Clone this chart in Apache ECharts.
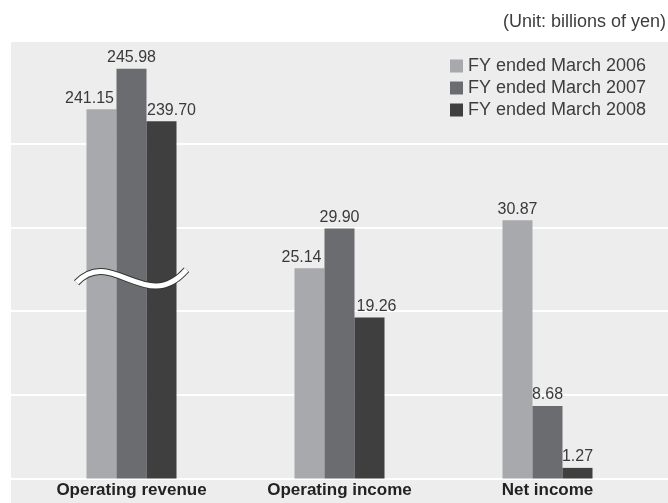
<!DOCTYPE html>
<html>
<head>
<meta charset="utf-8">
<script src="https://cdn.jsdelivr.net/npm/echarts@6/dist/echarts.min.js"></script>
<style>
html, body { margin: 0; padding: 0; background: #fff; }
#chart { width: 668px; height: 503px; }
</style>
</head>
<body>
<div id="chart"></div>
<script>
// data
var categories = ['Operating revenue', 'Operating income', 'Net income'];
var seriesNames = ['FY ended March 2006', 'FY ended March 2007', 'FY ended March 2008'];
var fy2006 = [241.15, 25.14, 30.87];
var fy2007 = [245.98, 29.90, 8.68];
var fy2008 = [239.70, 19.26, 1.27];
var yMax = 52.3;
var yStep = 10;
// broken axis for revenue: bars drawn lowered by breakOffset, wave drawn at breakAt
var breakOffset = 197;
var breakAt = 24;

var font = "'Liberation Sans', Arial, Helvetica, sans-serif";
var colors = ['#a8a9ac', '#6b6c70', '#3f3f40'];
// label nudges so neighbouring labels don't overlap
var nudge = [[-12, -8, 0], [0, 0, 0], [10, 7, 0]];

function barData(vals, s) {
    return vals.map(function (v, i) {
        return {
            value: i === 0 ? v - breakOffset : v,
            raw: v,
            label: { offset: [nudge[s][i], 0] }
        };
    });
}

var myChart = echarts.init(document.getElementById('chart'));

var series = [fy2006, fy2007, fy2008].map(function (vals, s) {
    return {
        name: seriesNames[s],
        type: 'bar',
        xAxisIndex: 1,
        yAxisIndex: 1,
        barWidth: 30,
        barGap: '0%',
        itemStyle: { color: colors[s] },
        label: {
            show: true,
            position: 'top',
            distance: 3,
            fontFamily: font,
            fontSize: 16,
            color: '#3a3a3a',
            formatter: function (p) { return p.data.raw.toFixed(2); }
        },
        data: barData(vals, s)
    };
});

var option = {
    animation: false,
    textStyle: { fontFamily: font },
    grid: [
        // background lines, full width
        { left: 11, right: 0, top: 41, bottom: 24.5 },
        // bars
        { left: 27.5, right: 16.5, top: 41, bottom: 24.5 }
    ],
    xAxis: [
        { gridIndex: 0, type: 'value', min: 0, max: 1, show: false },
        {
            gridIndex: 1,
            type: 'category',
            data: categories,
            axisLine: { show: false },
            axisTick: { show: false },
            axisLabel: {
                margin: 3,
                fontFamily: font,
                fontSize: 17,
                fontWeight: 'bold',
                color: '#222'
            }
        }
    ],
    yAxis: [
        {
            gridIndex: 0,
            type: 'value',
            min: 0,
            max: yMax,
            interval: yStep,
            axisLine: { show: false },
            axisTick: { show: false },
            axisLabel: { show: false },
            splitLine: {
                show: true,
                lineStyle: { color: ['#fff', '#fff', '#fff', '#fff', '#fff', '#ededed'], width: 2 }
            }
        },
        { gridIndex: 1, type: 'value', min: 0, max: yMax, show: false, splitLine: { show: false } }
    ],
    legend: {
        data: seriesNames,
        orient: 'vertical',
        left: 450,
        top: 55,
        padding: 0,
        icon: 'rect',
        itemWidth: 13,
        itemHeight: 13,
        itemGap: 0,
        textStyle: { fontFamily: font, fontSize: 18, color: '#3d3d3d', lineHeight: 22 }
    },
    graphic: [
        {
            id: 'bg',
            type: 'rect',
            z: -10,
            shape: { x: 11, y: 41, width: 657, height: 462 },
            style: { fill: '#ededed' }
        },
        {
            id: 'unit',
            type: 'text',
            x: 666,
            y: 22,
            style: {
                text: '(Unit: billions of yen)',
                font: '18px ' + font,
                fill: '#3d3d3d',
                textAlign: 'right',
                textVerticalAlign: 'middle'
            }
        }
    ],
    series: series
};

myChart.setOption(option);

// 断轴波浪线
var p = myChart.convertToPixel({ gridIndex: 1 }, [0, breakAt]);
var waveShape = { x1: -55, y1: 5, cpx1: -20, cpy1: -32, cpx2: 15, cpy2: 38, x2: 55, y2: -8 };
myChart.setOption({
    graphic: [
        {
            id: 'waveEdge',
            type: 'bezierCurve',
            x: p[0],
            y: p[1],
            z: 10,
            shape: waveShape,
            style: { fill: null, stroke: '#333', lineWidth: 7 }
        },
        {
            id: 'wave',
            type: 'bezierCurve',
            x: p[0],
            y: p[1],
            z: 11,
            shape: waveShape,
            style: { fill: null, stroke: '#fff', lineWidth: 5 }
        }
    ]
});
</script>
</body>
</html>
